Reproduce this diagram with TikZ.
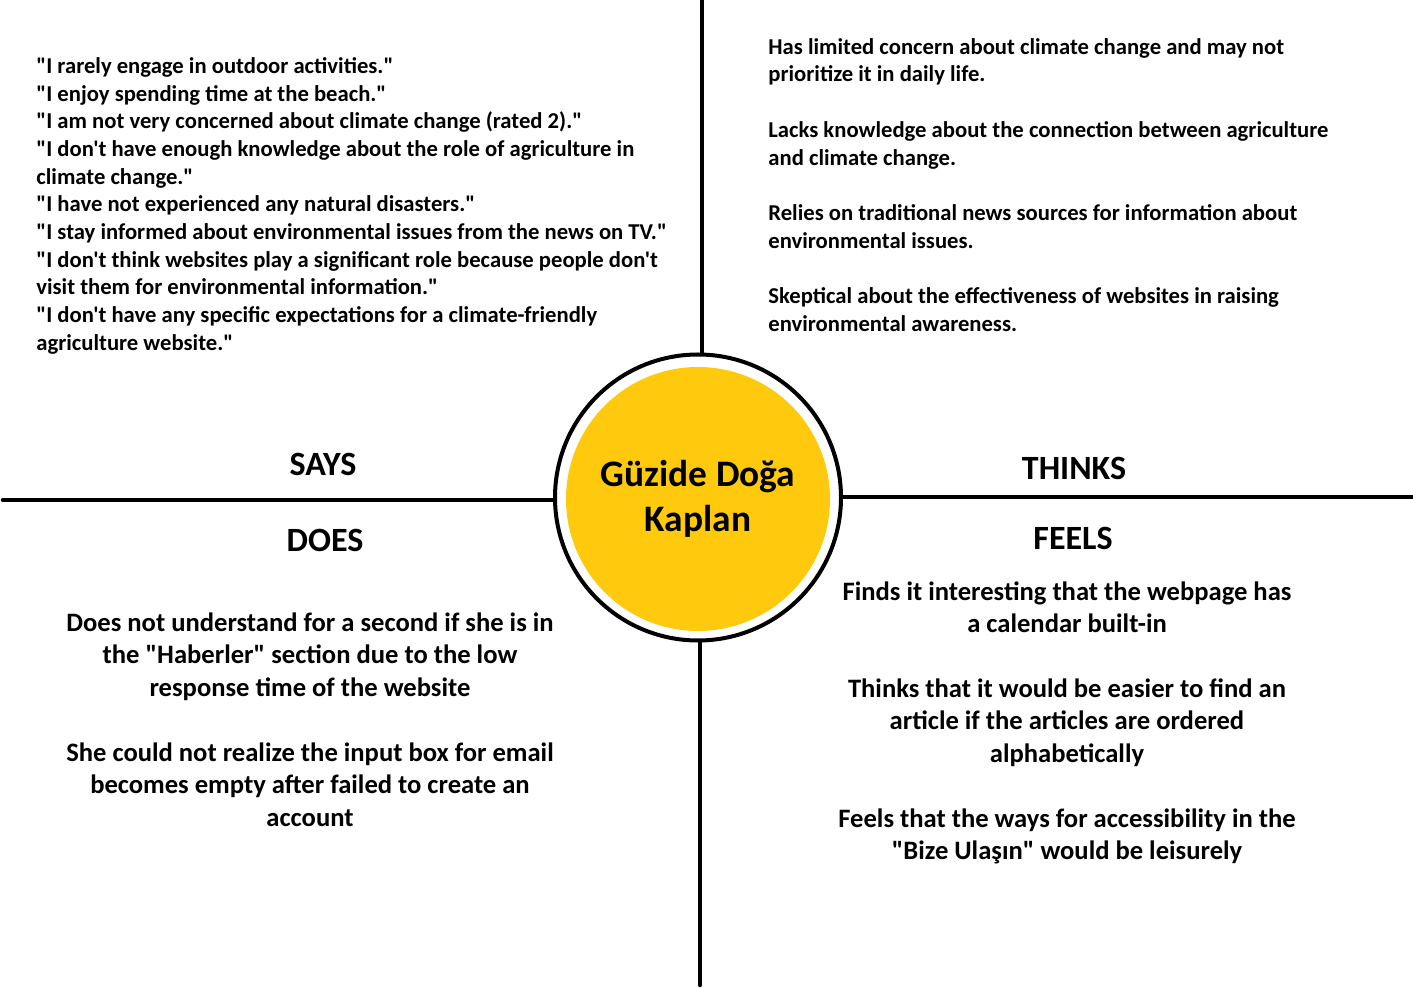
\documentclass[tikz,border=0pt]{standalone}
\usepackage{fontspec}
\setmainfont{Carlito}[Ligatures=TeXOff]
\definecolor{nameyellow}{HTML}{FFC90E}
\tikzset{
  divider/.style = {line width=2.25pt, line cap=round},
  quadtitle/.style = {font=\fontsize{17}{20}\selectfont\bfseries, inner sep=0pt},
  quotes/.style = {font=\fontsize{11.33}{13.85}\selectfont\bfseries, align=left, anchor=north west, inner sep=0pt},
  remark/.style = {font=\fontsize{13.3}{16.25}\selectfont\bfseries, align=center, anchor=north, inner sep=0pt}
}

\begin{document}
\begin{tikzpicture}[x=0.5pt,y=-0.5pt]
  \useasboundingbox (0,0) rectangle (1413,988);
  \node[circle, draw, line width=2pt, minimum size=143pt, inner sep=0pt] (ring) at (698,497.5) {};
  \node[circle, fill=nameyellow, minimum size=132pt, inner sep=0pt, align=center,
        font=\fontsize{18.7}{22.5}\selectfont\bfseries] (name) at (698,499) {Güzide Doğa\\Kaplan};
  \coordinate (top) at (702,0);
  \coordinate (bottom) at (700,985);
  \coordinate (left) at (3,500);
  \coordinate (right) at (1413,497);
  \draw[divider] (top) -- (top |- ring.north);
  \draw[divider] (bottom |- ring.south) -- (bottom);
  \draw[divider] (left) -- (left -| ring.west);
  \draw[divider] (ring.east |- right) -- (right);

  \node[quadtitle] (says) at (323,464) {SAYS};
  \node[quadtitle] (thinks) at (1074,468) {THINKS};
  \node[quadtitle] (does) at (325,540) {DOES};
  \node[quadtitle] (feels) at (1073,538) {FEELS};

  \node[quotes] (saysquotes) at (36,57) {"I rarely engage in outdoor activities."\\
    "I enjoy spending time at the beach."\\
    "I am not very concerned about climate change (rated 2)."\\
    "I don't have enough knowledge about the role of agriculture in\\
    climate change."\\
    "I have not experienced any natural disasters."\\
    "I stay informed about environmental issues from the news on TV."\\
    "I don't think websites play a significant role because people don't\\
    visit them for environmental information."\\
    "I don't have any specific expectations for a climate-friendly\\
    agriculture website."};

  \node[quotes] (think1) at (768,38) {Has limited concern about climate change and may not\\prioritize it in daily life.};
  \node[quotes] (think2) at (768,121) {Lacks knowledge about the connection between agriculture\\and climate change.};
  \node[quotes] (think3) at (768,204) {Relies on traditional news sources for information about\\environmental issues.};
  \node[quotes] (think4) at (768,287) {Skeptical about the effectiveness of websites in raising\\environmental awareness.};

  \node[remark] (does1) at (310,612) {Does not understand for a second if she is in\\the "Haberler" section due to the low\\response time of the website};
  \node[remark] (does2) at (310,742) {She could not realize the input box for email\\becomes empty after failed to create an\\account};

  \node[remark] (feel1) at (1067,581) {Finds it interesting that the webpage has\\a calendar built-in};
  \node[remark] (feel2) at (1067,678) {Thinks that it would be easier to find an\\article if the articles are ordered\\alphabetically};
  \node[remark] (feel3) at (1067,808) {Feels that the ways for accessibility in the\\"Bize Ulaşın" would be leisurely};
\end{tikzpicture}
\end{document}
